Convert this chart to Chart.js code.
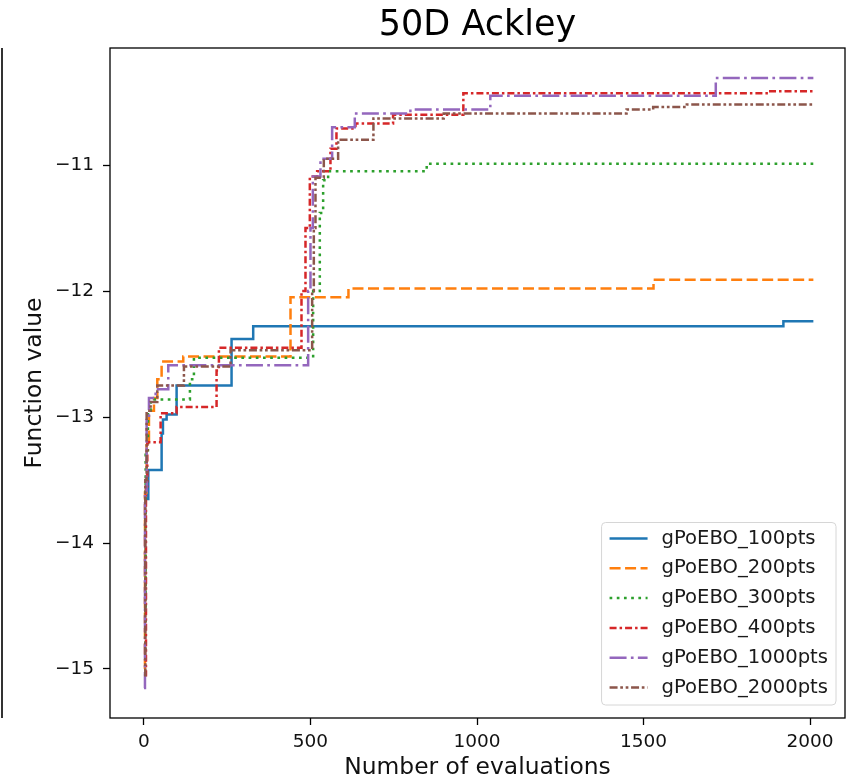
<!DOCTYPE html>
<html>
<head>
<meta charset="utf-8">
<script src="https://cdn.jsdelivr.net/npm/chart.js@4.4.1/dist/chart.umd.min.js"></script>
<style>
  html, body { margin: 0; padding: 0; background: #fff; overflow: hidden; }
  #wrap { position: relative; width: 846px; height: 780px; }
</style>
</head>
<body>
<div id="wrap"><canvas id="c" width="846" height="780"></canvas></div>
<script>
// ---- data ----
const seriesNames = ['gPoEBO_100pts', 'gPoEBO_200pts', 'gPoEBO_300pts', 'gPoEBO_400pts', 'gPoEBO_1000pts', 'gPoEBO_2000pts'];

const evals100 = [0, 13, 53, 57, 68, 98, 263, 328, 1920, 2010];
const vals100  = [-13.65, -13.42, -13.13, -13.02, -12.98, -12.75, -12.38, -12.28, -12.24, -12.24];

const evals200 = [0, 3, 8, 15, 30, 40, 53, 118, 440, 614, 1530, 2010];
const vals200  = [-15.0, -13.6, -13.2, -12.95, -12.85, -12.7, -12.56, -12.52, -12.05, -11.98, -11.91, -11.91];

const evals300 = [0, 5, 12, 20, 138, 150, 508, 528, 538, 553, 849, 2010];
const vals300  = [-14.9, -13.3, -12.95, -12.86, -12.7, -12.53, -12.0, -11.38, -11.12, -11.05, -10.99, -10.99];

const evals400 = [0, 6, 10, 50, 98, 218, 225, 473, 485, 498, 520, 560, 578, 635, 748, 959, 1874, 2010];
const vals400  = [-15.05, -13.55, -13.2, -12.97, -12.92, -12.63, -12.45, -12.0, -11.5, -11.09, -11.05, -10.87, -10.71, -10.67, -10.60, -10.43, -10.415, -10.415];

const evals1000 = [0, 3, 8, 15, 35, 73, 493, 500, 507, 530, 565, 633, 800, 1040, 1717, 2010];
const vals1000  = [-15.15, -13.6, -13.0, -12.85, -12.78, -12.59, -12.0, -11.5, -11.09, -10.95, -10.70, -10.59, -10.56, -10.45, -10.31, -10.31];

const evals2000 = [0, 4, 8, 20, 40, 120, 260, 505, 510, 515, 540, 583, 689, 900, 1449, 1529, 1630, 2010];
const vals2000  = [-15.05, -13.5, -12.95, -12.88, -12.75, -12.6, -12.47, -12.0, -11.5, -11.1, -10.95, -10.80, -10.63, -10.59, -10.56, -10.54, -10.52, -10.52];

const xTicks = [0, 500, 1000, 1500, 2000];
const yTicks = [-15, -14, -13, -12, -11];

// ---- styles ----
const colors = ['#1f77b4', '#ff7f0e', '#2ca02c', '#d62728', '#9467bd', '#8c564b'];
const dashes = [[], [11, 4.5], [2.7, 4.5], [7, 3, 2.5, 3], [17, 4.3, 2.7, 4.3], [8, 2.7, 2.7, 2.7, 2.7, 2.7]];
const FONT = 'DejaVu Sans';

const xsList = [evals100, evals200, evals300, evals400, evals1000, evals2000];
const ysList = [vals100, vals200, vals300, vals400, vals1000, vals2000];

const datasets = seriesNames.map((name, i) => ({
  label: name,
  data: xsList[i].map((x, j) => ({ x: x, y: ysList[i][j] })),
  borderColor: colors[i],
  backgroundColor: colors[i],
  borderWidth: 2.5,
  borderDash: dashes[i],
  borderCapStyle: 'butt',
  stepped: 'before',
  pointRadius: 0,
  fill: false,
  order: seriesNames.length - i
}));

const framePlugin = {
  id: 'frame',
  afterDatasetsDraw(chart) {
    const { ctx, chartArea: a } = chart;
    ctx.save();
    ctx.strokeStyle = '#000';
    ctx.lineWidth = 1.3;
    ctx.setLineDash([]);
    ctx.strokeRect(a.left, a.top, a.right - a.left, a.bottom - a.top);
    // edge of a neighbouring panel visible at the far left of the reference
    ctx.strokeStyle = '#333';
    ctx.lineWidth = 2;
    ctx.beginPath();
    ctx.moveTo(2, a.top);
    ctx.lineTo(2, a.bottom);
    ctx.stroke();
    ctx.restore();
  }
};

const legendPlugin = {
  id: 'boxLegend',
  afterDraw(chart) {
    const { ctx, chartArea: a } = chart;
    const fs = 19.6;
    const pitch = 29.8;
    const lineLen = 38, padL = 8, gap = 14, padR = 8;
    ctx.save();
    ctx.font = fs + 'px "' + FONT + '"';
    let maxW = 0;
    chart.data.datasets.forEach(d => { maxW = Math.max(maxW, ctx.measureText(d.label).width); });
    const n = chart.data.datasets.length;
    const w = padL + lineLen + gap + maxW + padR;
    const h = 16 + pitch * (n - 1) + 17.5;
    const right = a.right - 9;
    const bottom = a.bottom - 13;
    const left = right - w, top = bottom - h;
    ctx.beginPath();
    if (ctx.roundRect) ctx.roundRect(left, top, w, h, 4); else ctx.rect(left, top, w, h);
    ctx.fillStyle = 'rgba(255,255,255,0.85)';
    ctx.fill();
    ctx.strokeStyle = '#d6d6d6';
    ctx.lineWidth = 1;
    ctx.stroke();
    chart.data.datasets.forEach((d, i) => {
      const cy = top + 16 + pitch * i;
      ctx.beginPath();
      ctx.setLineDash(d.borderDash || []);
      ctx.lineCap = 'butt';
      ctx.strokeStyle = d.borderColor;
      ctx.lineWidth = d.borderWidth;
      ctx.moveTo(left + padL, cy);
      ctx.lineTo(left + padL + lineLen, cy);
      ctx.stroke();
      ctx.setLineDash([]);
      ctx.fillStyle = '#1a1a1a';
      ctx.textAlign = 'left';
      ctx.textBaseline = 'middle';
      ctx.fillText(d.label, left + padL + lineLen + gap, cy);
    });
    ctx.restore();
  }
};

new Chart(document.getElementById('c'), {
  type: 'line',
  data: { datasets: datasets },
  options: {
    responsive: false,
    animation: false,
    devicePixelRatio: 1,
    layout: { padding: { left: 0, right: 1, top: 0, bottom: 0 } },
    plugins: {
      legend: { display: false },
      tooltip: { enabled: false },
      title: {
        display: true,
        fullSize: false,
        text: '50D Ackley',
        color: '#000',
        font: { family: FONT, size: 35, weight: 'normal', lineHeight: 1.2 },
        padding: { top: 5, bottom: 1 }
      }
    },
    scales: {
      x: {
        type: 'linear',
        min: -102,
        max: 2105,
        afterBuildTicks: s => { s.ticks = xTicks.map(v => ({ value: v })); },
        afterFit: s => { s.height = 62; },
        border: { display: false },
        grid: { display: true, drawOnChartArea: false, drawTicks: true, tickLength: 7, tickWidth: 1.3, tickColor: '#000' },
        ticks: { color: '#111', font: { family: FONT, size: 18.5 }, padding: 6, maxRotation: 0, callback: v => String(v) },
        title: { display: true, text: 'Number of evaluations', color: '#111', font: { family: FONT, size: 23.4 }, padding: { top: 0, bottom: -2 } }
      },
      y: {
        type: 'linear',
        min: -15.389,
        max: -10.071,
        afterBuildTicks: s => { s.ticks = yTicks.map(v => ({ value: v })); },
        afterFit: s => { s.width = 110; },
        border: { display: false },
        grid: { display: true, drawOnChartArea: false, drawTicks: true, tickLength: 7, tickWidth: 1.3, tickColor: '#000' },
        ticks: { color: '#111', font: { family: FONT, size: 18.5 }, padding: 9, callback: v => '\u2212' + Math.abs(v) },
        title: { display: true, text: 'Function value', color: '#111', font: { family: FONT, size: 23.4 }, padding: { top: 21, bottom: 0 } }
      }
    }
  },
  plugins: [framePlugin, legendPlugin]
});
</script>
</body>
</html>
